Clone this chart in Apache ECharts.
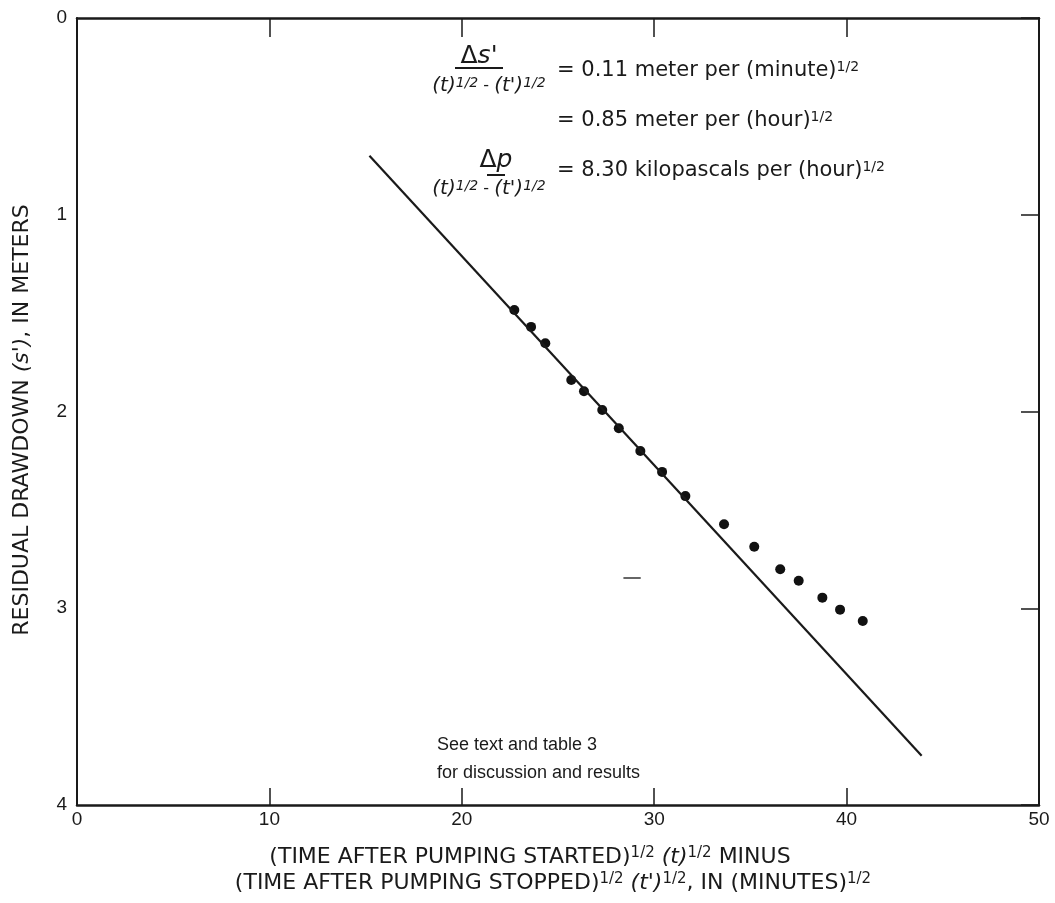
<!DOCTYPE html>
<html>
<head>
<meta charset="utf-8">
<script src="https://cdn.jsdelivr.net/npm/echarts@6/dist/echarts.min.js"></script>
<style>
html,body{margin:0;padding:0;background:#fff;}
#c{width:1055px;height:903px;}
</style>
</head>
<body>
<div id="c"></div>
<script>
// Observed data: (t)^1/2 - (t')^1/2 in (minutes)^1/2 vs residual drawdown s' in meters
const timeRoot = [22.73, 23.60, 24.34, 25.69, 26.35, 27.30, 28.16, 29.28, 30.41, 31.62, 33.63, 35.20, 36.55, 37.51, 38.74, 39.66, 40.84];
const drawdown = [1.484, 1.570, 1.653, 1.840, 1.897, 1.992, 2.085, 2.201, 2.307, 2.430, 2.573, 2.687, 2.802, 2.860, 2.946, 3.007, 3.065];
// Fitted straight line end points
const fitX = [15.2, 43.9];
const fitY = [0.70, 3.75];
// Small stray dash present in the figure
const dashX = [28.4, 29.3];
const dashY = [2.846, 2.846];
// Axis ticks
const xTicks = [0, 10, 20, 30, 40, 50];
const yTicks = [0, 1, 2, 3, 4];

const TFONT = '"Liberation Sans", Arial, sans-serif';
const FONT = '"DejaVu Sans", sans-serif';
const INK = '#1a1a1a';

const chart = echarts.init(document.getElementById('c'), null, {renderer: 'canvas'});

function st(size, italic, extra) {
  return Object.assign({fontSize: size, fontFamily: FONT, fill: INK, fontStyle: italic ? 'italic' : 'normal'}, extra || {});
}
const titleRich = {n: st(22), i: st(22, true), s: st(15, false, {verticalAlign: 'top'}), si: st(15, false, {verticalAlign: 'top'})};
const eqRich = {n: st(21), s: st(14, false, {verticalAlign: 'top'})};
const denRich = {i: st(20, true), s: st(14, true, {verticalAlign: 'top'}), n: st(16)};
const numRich = {a: st(25), b: st(25, true)};

function txt(x, y, text, rich, align, rotation) {
  return {
    type: 'text', x: x, y: y, rotation: rotation || 0,
    style: {text: text, rich: rich, align: align || 'left', verticalAlign: 'middle',
            fontFamily: FONT, fontSize: 18, fill: INK}
  };
}

const option = {
  backgroundColor: '#fff',
  animation: false,
  grid: {left: 77, right: 16, top: 18, bottom: 98, containLabel: false},
  xAxis: [
    {type: 'value', position: 'bottom', min: xTicks[0], max: xTicks[xTicks.length-1], interval: 10,
     axisLine: {show: true, onZero: false, lineStyle: {color: INK, width: 2.5}},
     axisTick: {show: true, inside: true, length: 17, lineStyle: {color: INK, width: 1.5}},
     axisLabel: {color: INK, fontSize: 19, fontFamily: TFONT, margin: 5},
     splitLine: {show: false}},
    {type: 'value', position: 'top', min: xTicks[0], max: xTicks[xTicks.length-1], interval: 10,
     axisLine: {show: true, onZero: false, lineStyle: {color: INK, width: 2.5}},
     axisTick: {show: true, inside: true, length: 19, lineStyle: {color: INK, width: 1.5}},
     axisLabel: {show: false}, splitLine: {show: false}}
  ],
  yAxis: [
    {type: 'value', position: 'left', inverse: true, min: yTicks[0], max: yTicks[yTicks.length-1], interval: 1,
     axisLine: {show: true, onZero: false, lineStyle: {color: INK, width: 2}},
     axisTick: {show: false},
     axisLabel: {color: INK, fontSize: 19, fontFamily: TFONT, margin: 10},
     splitLine: {show: false}},
    {type: 'value', position: 'right', inverse: true, min: yTicks[0], max: yTicks[yTicks.length-1], interval: 1,
     axisLine: {show: true, onZero: false, lineStyle: {color: INK, width: 2}},
     axisTick: {show: true, inside: true, length: 18, lineStyle: {color: INK, width: 1.5}},
     axisLabel: {show: false}, splitLine: {show: false}}
  ],
  series: [
    {type: 'line', xAxisIndex: 0, yAxisIndex: 0, data: fitX.map((x, i) => [x, fitY[i]]),
     symbol: 'none', lineStyle: {color: INK, width: 2.2}, silent: true},
    {type: 'line', xAxisIndex: 0, yAxisIndex: 0, data: dashX.map((x, i) => [x, dashY[i]]),
     symbol: 'none', lineStyle: {color: '#333', width: 1.5}, silent: true},
    {type: 'scatter', xAxisIndex: 0, yAxisIndex: 0, data: timeRoot.map((x, i) => [x, drawdown[i]]),
     symbol: 'circle', symbolSize: 10, itemStyle: {color: '#111', opacity: 1}}
  ],
  graphic: [
    // formula 1
    txt(479, 56, '{a|Δ}{b|s\'}', numRich, 'center'),
    {type: 'line', shape: {x1: 455, y1: 68, x2: 503, y2: 68}, style: {stroke: INK, lineWidth: 2}},
    txt(489, 86, '{i|(t)}{s|1/2}{n| - }{i|(t\')}{s|1/2}', denRich, 'center'),
    txt(557, 71, '{n|= 0.11 meter per (minute)}{s|1/2}', eqRich, 'left'),
    txt(557, 121, '{n|= 0.85 meter per (hour)}{s|1/2}', eqRich, 'left'),
    // formula 2
    txt(496, 160, '{a|Δ}{b|p}', numRich, 'center'),
    {type: 'line', shape: {x1: 487, y1: 175, x2: 505, y2: 175}, style: {stroke: INK, lineWidth: 2}},
    txt(489, 189, '{i|(t)}{s|1/2}{n| - }{i|(t\')}{s|1/2}', denRich, 'center'),
    txt(557, 171, '{n|= 8.30 kilopascals per (hour)}{s|1/2}', eqRich, 'left'),
    // note
    txt(437, 745, '{n|See text and table 3}', {n: {fontSize: 18, fontFamily: TFONT, fill: INK}}, 'left'),
    txt(437, 773, '{n|for discussion and results}', {n: {fontSize: 18, fontFamily: TFONT, fill: INK}}, 'left'),
    // x axis title
    txt(530, 857, '{n|(TIME AFTER PUMPING STARTED)}{s|1/2}{n| }{i|(t)}{si|1/2}{n| MINUS}', titleRich, 'center'),
    txt(553, 883, '{n|(TIME AFTER PUMPING STOPPED)}{s|1/2}{n| }{i|(t\')}{si|1/2}{n|, IN (MINUTES)}{s|1/2}', titleRich, 'center'),
    // y axis title
    txt(22, 420, '{n|RESIDUAL DRAWDOWN }{i|(s\')}{n|, IN METERS}', {n: st(22), i: st(22, true)}, 'center', Math.PI / 2)
  ]
};
chart.setOption(option);
</script>
</body>
</html>
